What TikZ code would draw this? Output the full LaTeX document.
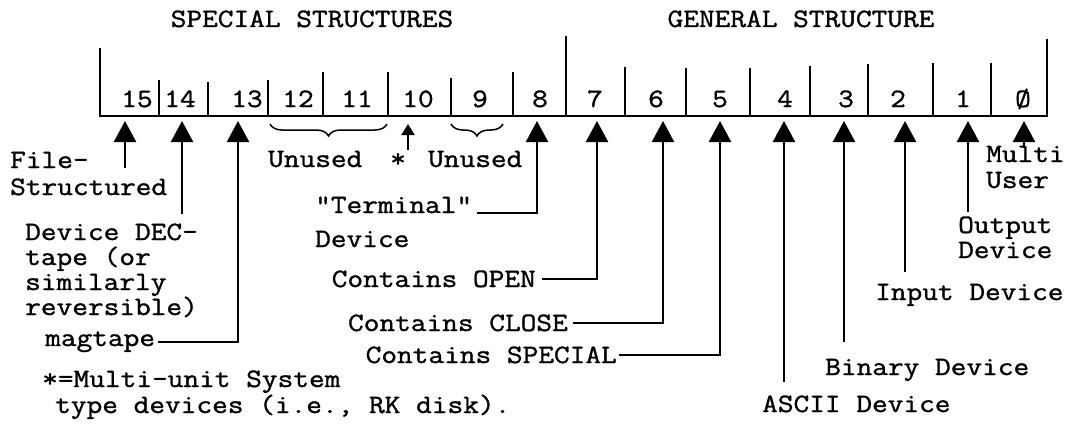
\documentclass[tikz,border=0pt]{standalone}
\usepackage{fontspec}
\setmonofont{Latin Modern Mono}[FakeStretch=1.15,FakeBold=1.2]
\usetikzlibrary{arrows.meta,decorations.pathreplacing}
\begin{document}
\begin{tikzpicture}[x=1pt,y=-1pt,
  font=\ttfamily\fontsize{26.5}{26.5}\selectfont,
  lbl/.style={inner sep=0pt, anchor=base west},
  lble/.style={inner sep=0pt, anchor=base east},
  ttl/.style={inner sep=0pt, anchor=base},
  num/.style={inner sep=0pt, anchor=base},
  bar/.style={line width=2.6pt},
  stem/.style={line width=2.4pt, -{Triangle[length=21pt,width=22pt]}},
  smallarr/.style={line width=2pt, -{Triangle[length=11pt,width=13pt]}},
  conn/.style={line width=2.2pt, -{Triangle[length=21pt,width=22pt]}},
  brc/.style={line width=1.5pt, decorate, decoration={brace, amplitude=12pt}}]
\useasboundingbox (0,0) rectangle (1068,423);

% register frame
\draw[bar] (100,48) -- (100,116) -- (1047,116) -- (1047,39);
\foreach \x/\t in {159/80,208/82,268/80,323/72,388/72,451/78,513/72,566/36,
                   625/67,686/68,750/68,810/66,868/64,933/63,991/63}
  \draw[bar] (\x,\t) -- (\x,116);

% titles
\node[ttl] (t1) at (312,27) {SPECIAL STRUCTURES};
\node[ttl] (t2) at (801,27) {GENERAL STRUCTURE};

% bit numbers
\foreach \n/\x in {15/137,14/180,13/247,12/298,11/357,10/418,9/480,8/540,
                   7/595,6/656,5/720,4/785,3/846,2/898,1/963}
  \node[num] (n\n) at (\x,107) {\n};
\node[num] (n0) at (1023,107) {Ø};

% arrow tips under the bits
\foreach \n/\x in {15/125,14/182,13/238,8/537,7/597,6/663,5/720,4/784,
                   3/844,2/905,1/968,0/1024}
  \coordinate (b\n) at (\x,121);
\coordinate (b10) at (408,124);

% braces
\draw[brc] (387,124) -- (270,124);
\draw[brc] (503,124) -- (451,124);

% labels
\node[lbl] (file) at (10,168) {File-};
\node[lbl] (struct) at (10,195) {Structured};
\node[lbl] (dev1) at (25,240) {Device DEC-};
\node[lbl] (dev2) at (25,265) {tape (or};
\node[lbl] (dev3) at (25,290) {similarly};
\node[lbl] (dev4) at (25,315) {reversible)};
\node[lbl] (mag) at (45,346) {magtape};
\node[lbl] (note1) at (42,387) {*=Multi-unit System};
\node[lbl] (note2) at (55,413) {type devices (i.e., RK disk).};
\node[lbl] (un1) at (268,167) {Unused};
\node[lbl] (star) at (390,167) {*};
\node[lbl] (un2) at (428,167) {Unused};
\node[lbl] (term) at (315,213) {"Terminal"};
\node[lbl] (termd) at (315,247) {Device};
\node[lble] (open) at (536,287) {Contains OPEN};
\node[lble] (close) at (568,331) {Contains CLOSE};
\node[lble] (spec) at (617,363) {Contains SPECIAL};
\node[lbl] (ascii) at (762,412) {ASCII Device};
\node[lbl] (bin) at (825,375) {Binary Device};
\node[lbl] (inp) at (875,300) {Input Device};
\node[lbl] (outp) at (958,233) {Output};
\node[lbl] (outd) at (958,258) {Device};
\node[lbl] (mu1) at (986,162) {Multi};
\node[lbl] (mu2) at (986,188) {User};

% free stem ends
\coordinate (s15) at (125,168);
\coordinate (s14) at (182,214);
\coordinate (s10) at (408,150);
\coordinate (s4) at (784,382);
\coordinate (s3) at (844,342);
\coordinate (s2) at (905,272);
\coordinate (s1) at (968,212);
\coordinate (s0) at (1024,148);

% arrows
\draw[stem] (s15) -- (b15);
\draw[stem] (s14) -- (b14);
\draw[conn] ([xshift=3pt]mag.east) -| (b13);
\draw[smallarr] (s10) -- (b10);
\draw[conn] ([xshift=5pt]term.base east) -| (b8);
\draw[conn] ([xshift=6pt]open.east) -| (b7);
\draw[conn] ([xshift=5pt]close.east) -| (b6);
\draw[conn] ([xshift=2pt]spec.east) -| (b5);
\draw[stem] (s4) -- (b4);
\draw[stem] (s3) -- (b3);
\draw[stem] (s2) -- (b2);
\draw[stem] (s1) -- (b1);
\draw[stem] (s0) -- (b0);
\end{tikzpicture}
\end{document}
